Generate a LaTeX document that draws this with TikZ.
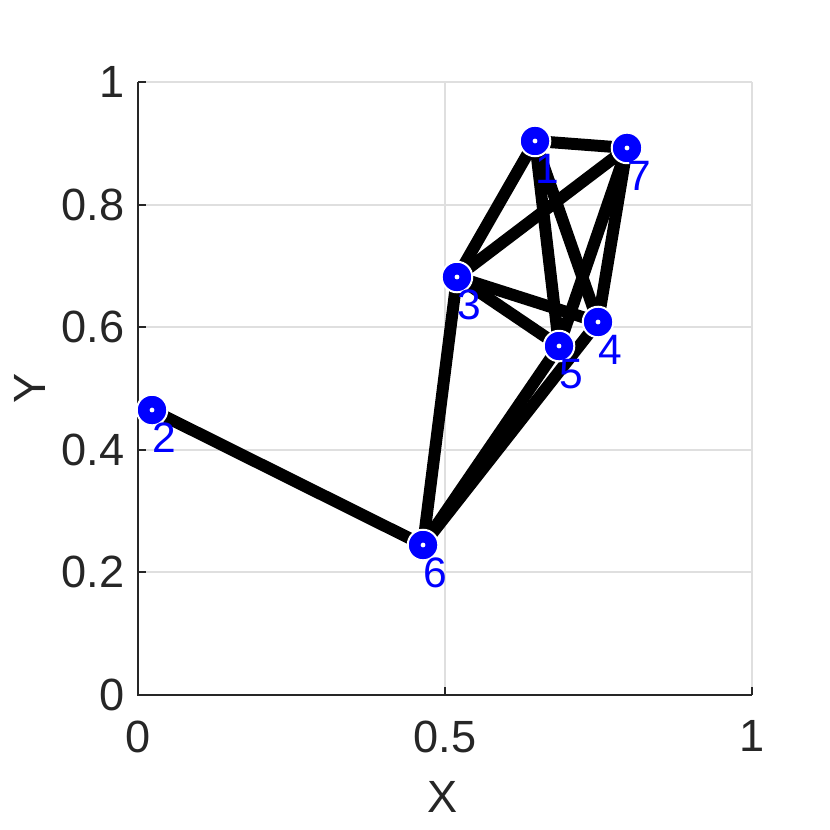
\documentclass[tikz,border=0pt]{standalone}
\usepackage{fontspec}
\setmainfont{Liberation Sans}
\usetikzlibrary{positioning}
\definecolor{axisgray}{RGB}{38,38,38}
\definecolor{gridgray}{RGB}{223,223,223}
\definecolor{nodeblue}{RGB}{0,0,255}

\begin{document}
\begin{tikzpicture}[x=16.246cm, y=16.22cm,
  vertex/.style={circle, fill=nodeblue, draw=white, line width=1.5pt,
    minimum size=23pt, inner sep=0pt,
    path picture={\fill[white] (path picture bounding box.center) circle (1.8pt);}},
  edge/.style={line width=9pt, black},
  numlbl/.style={text=nodeblue, font=\fontsize{32}{38}\selectfont, inner sep=0pt},
  ticklbl/.style={text=axisgray, font=\fontsize{34}{40}\selectfont, inner sep=0pt},
  gridline/.style={gridgray, line width=1.5pt},
  axisline/.style={axisgray, line width=1.6pt}]
  \useasboundingbox (-0.2248,-0.2202) rectangle (1.1270,1.1338);

  % grid
  \foreach \y in {0.2,0.4,0.6,0.8,1} \draw[gridline] (0,\y) -- (1,\y);
  \foreach \x in {0.5,1} \draw[gridline] (\x,0) -- (\x,1);

  % axes and ticks
  \draw[axisline] (0,1) -- (0,0) -- (1,0);
  \foreach \y in {0.2,0.4,0.6,0.8,1} \draw[axisline] (0,\y) -- ++(6pt,0);
  \foreach \x in {0.5,1} \draw[axisline] (\x,0) -- ++(0,6pt);
  \foreach \y/\t in {0/0,0.2/0.2,0.4/0.4,0.6/0.6,0.8/0.8,1/1}
    \node[ticklbl, anchor=east, xshift=-10pt] (ty\t) at (0,\y) {\t};
  \foreach \x/\t in {0/0,0.5/0.5,1/1}
    \node[ticklbl, anchor=north, yshift=-19pt] (tx\t) at (\x,0) {\t};
  \node[ticklbl] (xlabel) at (0.4967,-0.1664) {X};
  \node[ticklbl, rotate=90] (ylabel) at (-0.1759,0.5008) {Y};

  % vertices
  \coordinate (p1) at (0.6466,0.9038);
  \coordinate (p2) at (0.0228,0.4649);
  \coordinate (p3) at (0.5195,0.6819);
  \coordinate (p4) at (0.7492,0.6085);
  \coordinate (p5) at (0.6857,0.5693);
  \coordinate (p6) at (0.4642,0.2447);
  \coordinate (p7) at (0.7964,0.8924);

  % edges
  \foreach \a/\b in {1/7,1/3,1/5,1/4,7/3,7/5,7/4,3/5,3/4,3/6,5/6,4/6,6/2}
    \draw[edge] (p\a) -- (p\b);

  \foreach \i in {1,...,7} {
    \node[vertex] (n\i) at (p\i) {};
    \node[numlbl, xshift=9pt, yshift=-21pt] (l\i) at (n\i) {\i};
  }
\end{tikzpicture}
\end{document}
